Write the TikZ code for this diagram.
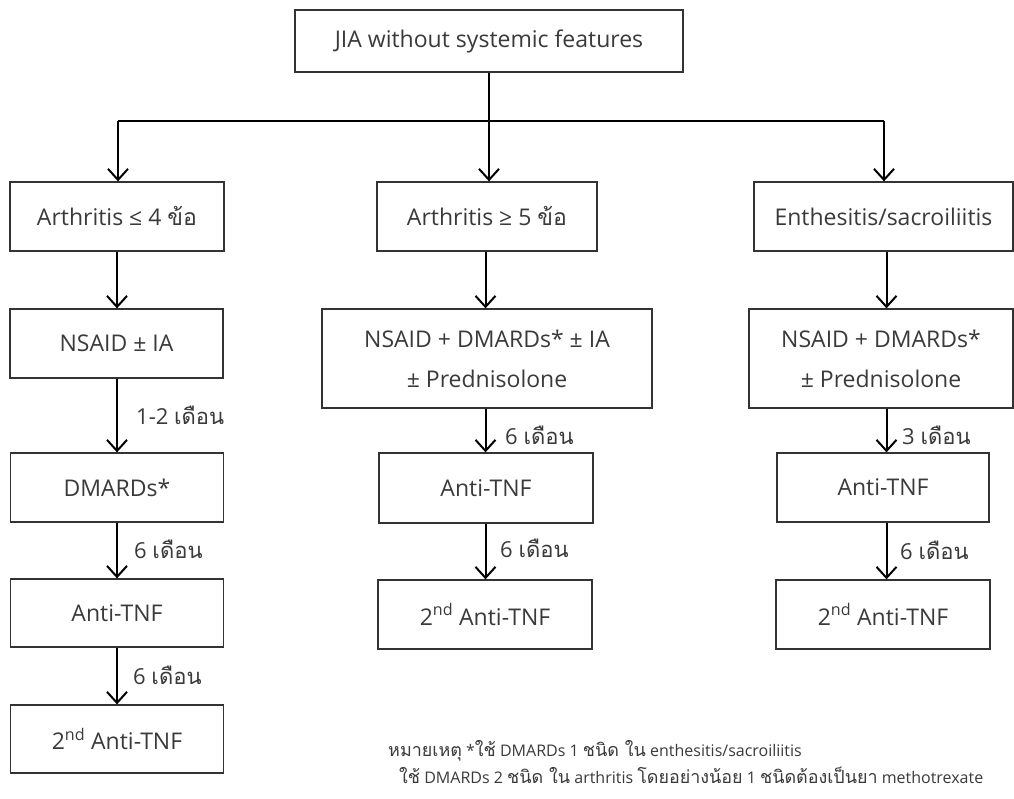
\documentclass[tikz,border=0pt]{standalone}
\usepackage{fontspec}
\setmainfont{Open Sans}
\newfontfamily\thaif[Script=Thai]{Loma}
\newfontfamily\thaifn[Script=Thai,Scale=1.12]{Loma}
\usetikzlibrary{arrows.meta,calc}
\newcommand{\tht}[1]{{\thaif #1}}
\newcommand{\thn}[1]{{\thaifn #1}}
\definecolor{boxgray}{HTML}{333333}
\definecolor{textgray}{HTML}{3A3A3A}
\begin{document}
\begin{tikzpicture}[x=1pt,y=-1pt,
  box/.style={draw=boxgray, line width=1.3pt, text=textgray, font=\fontsize{23}{40}\selectfont, inner sep=0pt, align=center},
  arr/.style={draw=black, line width=2pt, -{Straight Barb[length=11pt,width=20pt,line width=2pt]}},
  conn/.style={draw=black, line width=2pt},
  lab/.style={anchor=west, text=textgray, font=\fontsize{22}{26}\selectfont, inner sep=0pt},
  note/.style={anchor=west, text=textgray, font=\fontsize{16}{18}\selectfont, inner sep=0pt}]
\useasboundingbox[fill=white] (0,0) rectangle (1014,798);
% boxes
\node[box, minimum width=388, minimum height=62] (top) at (489,41) {JIA without systemic features};
\node[box, minimum width=214, minimum height=69] (L1) at (117,216.5) {Arthritis ≤ 4 \tht{ข้อ}};
\node[box, minimum width=220, minimum height=69] (M1) at (487,216.5) {Arthritis ≥ 5 \tht{ข้อ}};
\node[box, minimum width=259, minimum height=69] (R1) at (883.5,216.5) {Enthesitis/sacroiliitis};
\node[box, minimum width=213, minimum height=69] (L2) at (116.5,343.5) {NSAID ± IA};
\node[box, minimum width=213, minimum height=69] (L3) at (117,487.5) {DMARDs*};
\node[box, minimum width=213, minimum height=68] (L4) at (117,613) {Anti-TNF};
\node[box, minimum width=213, minimum height=68] (L5) at (117,739) {2\textsuperscript{nd} Anti-TNF};
\node[box, minimum width=330, minimum height=99] (M2) at (487,358.5) {NSAID + DMARDs* ± IA\\ ± Prednisolone};
\node[box, minimum width=214, minimum height=70] (M3) at (486,488) {Anti-TNF};
\node[box, minimum width=214, minimum height=69] (M4) at (485,614.5) {2\textsuperscript{nd} Anti-TNF};
\node[box, minimum width=264, minimum height=99] (R2) at (881,358.5) {NSAID + DMARDs*\\ ± Prednisolone};
\node[box, minimum width=212, minimum height=69] (R3) at (883,487.5) {Anti-TNF};
\node[box, minimum width=214, minimum height=69] (R4) at (883,614.5) {2\textsuperscript{nd} Anti-TNF};
% connectors
\coordinate (hl) at (118,121);
\coordinate (hr) at (884,121);
\coordinate (lx) at (117,0);
\coordinate (mx) at (485.5,0);
\coordinate (rx) at (886.5,0);
\draw[conn] (top.south) -- (top.south |- hl);
\draw[conn] (hl) -- (hr);
\draw[arr] (hl) -- (hl |- L1.north);
\draw[arr] (top.south |- hl) -- (top.south |- M1.north);
\draw[arr] (hr) -- (hr |- R1.north);
\draw[arr] (L1.south -| lx) -- (L2.north -| lx);
\draw[arr] (L2.south -| lx) -- (L3.north -| lx);
\draw[arr] (L3.south -| lx) -- (L4.north -| lx);
\draw[arr] (L4.south -| lx) -- (L5.north -| lx);
\draw[arr] (M1.south -| mx) -- (M2.north -| mx);
\draw[arr] (M2.south -| mx) -- (M3.north -| mx);
\draw[arr] (M3.south -| mx) -- (M4.north -| mx);
\draw[arr] (R1.south -| rx) -- (R2.north -| rx);
\draw[arr] (R2.south -| rx) -- (R3.north -| rx);
\draw[arr] (R3.south -| rx) -- (R4.north -| rx);
% labels
\node[lab] (t1) at (136,415) {1-2 \tht{เดือน}};
\node[lab] (t2) at (134,549) {6 \tht{เดือน}};
\node[lab] (t3) at (133,675) {6 \tht{เดือน}};
\node[lab] (t4) at (505,435) {6 \tht{เดือน}};
\node[lab] (t5) at (500,548) {6 \tht{เดือน}};
\node[lab] (t6) at (902,435) {3 \tht{เดือน}};
\node[lab] (t7) at (900,550) {6 \tht{เดือน}};
% footnote
\node[note] (n1) at (388,751) {\thn{หมายเหตุ} *\thn{ใช้} DMARDs 1 \thn{ชนิด ใน} enthesitis/sacroiliitis};
\node[note] (n2) at (399,775) {\thn{ใช้} DMARDs 2 \thn{ชนิด ใน} arthritis \thn{โดยอย่างน้อย} 1 \thn{ชนิดต้องเป็นยา} methotrexate};
\end{tikzpicture}
\end{document}
